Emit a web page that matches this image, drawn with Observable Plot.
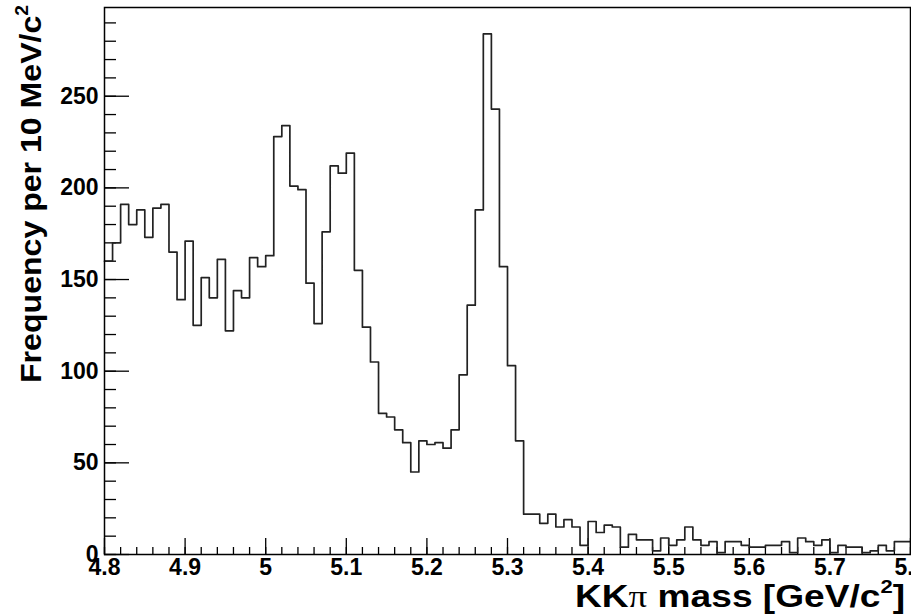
<!DOCTYPE html>
<html><head><meta charset="utf-8">
<script src="https://cdn.jsdelivr.net/npm/d3@7"></script>
<script src="https://cdn.jsdelivr.net/npm/@observablehq/plot@0.6"></script>
<style>
html,body{margin:0;padding:0;background:#fff;overflow:hidden;}
#chart svg{display:block;}
</style></head><body><div id="chart"></div>
<script>
// ---- data ----
const binStart = 4.8;          // GeV/c^2, left edge of first bin
const binWidth = 0.01;         // 10 MeV/c^2 bins
const counts = [
  160,170,191,180,188,173,189,191,165,139,
  171,125,151,140,161,122,144,140,162,157,
  163,228,234,201,199,148,126,176,212,208,
  219,155,124,105,77,75,68,61,45,62,
  60,61,58,68,98,136,188,284,243,157,
  103,62,22,22,17,22,15,19,15,5,
  18,12,16,15,4,11,8,8,2,9,
  5,8,15,8,5,7,1,7,7,5,
  4,4,5,5,7,1,9,7,5,8,
  1,5,4,4,1,2,5,2,7,7
];
const xMajorTicks = [4.8, 4.9, 5, 5.1, 5.2, 5.3, 5.4, 5.5, 5.6, 5.7, 5.8];
const yMajorTicks = [0, 50, 100, 150, 200, 250];
const xDomain = [4.8, 5.8];
const yDomain = [0, 298.4];
const xTitleParts = ["KK", "\u03c0", " mass [GeV/c", "2", "]"];
const yTitleParts = ["Frequency per 10 MeV/c", "2"];

// ---- derived tables ----
const steps = counts.map((v, i) => ({x: binStart + i * binWidth, y: v}));
steps.push({x: binStart + counts.length * binWidth, y: counts[counts.length - 1]});
const xMinorTicks = d3.range(0, 51).map(i => +(4.8 + i * 0.02).toFixed(2));
const yMinorTicks = d3.range(0, 300, 10);

const FONT = "'Liberation Sans', Arial, Helvetica, sans-serif";

const plot = Plot.plot({
  width: 911,
  height: 616,
  marginLeft: 104,
  marginRight: 1,
  marginTop: 7,
  marginBottom: 62,
  style: {fontFamily: FONT, fontWeight: "bold", fontSize: "23px", color: "black", background: "white"},
  x: {domain: xDomain},
  y: {domain: yDomain},
  marks: [
    Plot.axisX(xMinorTicks, {tickSize: -7, fill: "none", label: null, strokeWidth: 1.3}),
    Plot.axisX(xMajorTicks, {tickSize: -16, fill: "none", label: null, strokeWidth: 1.3}),
    Plot.axisX(xMajorTicks, {tickSize: 0, tickPadding: 4, label: null, tickFormat: d => `${d}`, fontSize: 23, fontWeight: "bold"}),
    Plot.axisY(yMinorTicks, {tickSize: -12, fill: "none", label: null, strokeWidth: 1.3}),
    Plot.axisY(yMajorTicks, {tickSize: -25, fill: "none", label: null, strokeWidth: 1.3}),
    Plot.axisY(yMajorTicks, {tickSize: 0, tickPadding: 6, label: null, tickFormat: d => `${d}`, fontSize: 23, fontWeight: "bold"}),
    Plot.line(steps, {x: "x", y: "y", curve: "step-after", stroke: "#222", strokeWidth: 1.7}),
    Plot.frame({stroke: "black", strokeWidth: 1.5})
  ]
});
document.getElementById("chart").appendChild(plot);

// ---- axis titles (ROOT style, right/top aligned) ----
const svg = d3.select(plot);
const xt = svg.append("text")
  .attr("transform", "translate(905,607) scale(1.16,1)")
  .attr("text-anchor", "end")
  .attr("font-family", FONT).attr("font-weight", "bold").attr("font-size", 32).attr("fill", "black");
xt.append("tspan").text(xTitleParts[0]);
xt.append("tspan").attr("font-family", "'Liberation Serif', 'DejaVu Serif', serif").attr("font-weight", "normal").text(xTitleParts[1]);
xt.append("tspan").text(xTitleParts[2]);
xt.append("tspan").attr("font-size", 19).attr("dy", -14).text(xTitleParts[3]);
xt.append("tspan").attr("dy", 14).text(xTitleParts[4]);

const yt = svg.append("text")
  .attr("transform", "translate(41,5) rotate(-90) scale(1.07,1)")
  .attr("text-anchor", "end")
  .attr("font-family", FONT).attr("font-weight", "bold").attr("font-size", 30).attr("fill", "black");
yt.append("tspan").text(yTitleParts[0]);
yt.append("tspan").attr("font-size", 18).attr("dy", -13).text(yTitleParts[1]);
</script></body></html>
